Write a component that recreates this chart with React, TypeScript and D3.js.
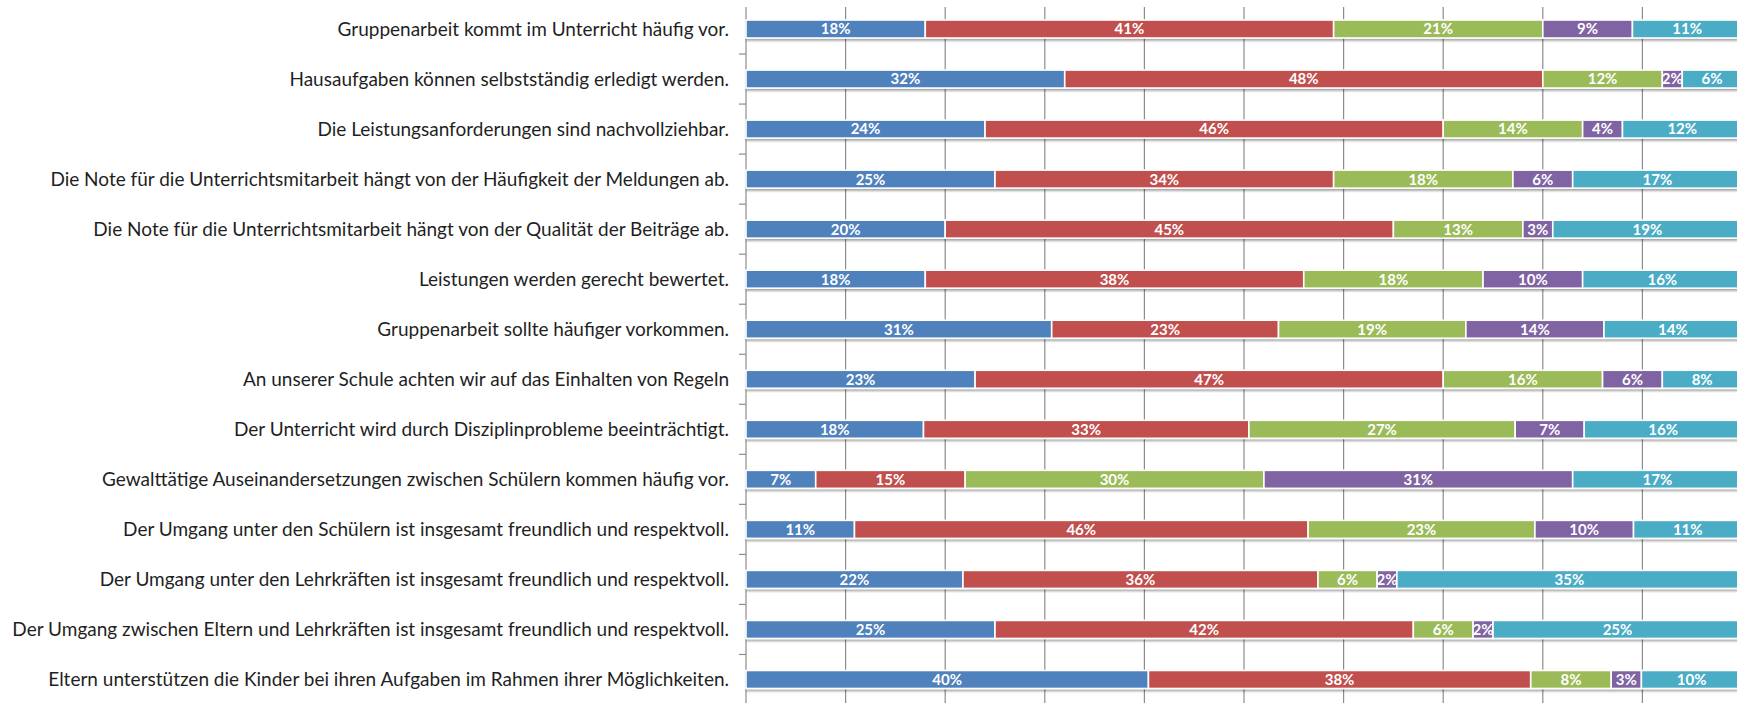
import React from "react";
import * as d3 from "d3";

const categories = [
  "Gruppenarbeit kommt im Unterricht häufig vor.",
  "Hausaufgaben können selbstständig erledigt werden.",
  "Die Leistungsanforderungen sind nachvollziehbar.",
  "Die Note für die Unterrichtsmitarbeit hängt von der Häufigkeit der Meldungen ab.",
  "Die Note für die Unterrichtsmitarbeit hängt von der Qualität der Beiträge ab.",
  "Leistungen werden gerecht bewertet.",
  "Gruppenarbeit sollte häufiger vorkommen.",
  "An unserer Schule achten wir auf das Einhalten von Regeln",
  "Der Unterricht wird durch Disziplinprobleme beeinträchtigt.",
  "Gewalttätige Auseinandersetzungen zwischen Schülern kommen häufig vor.",
  "Der Umgang unter den Schülern ist insgesamt freundlich und respektvoll.",
  "Der Umgang unter den Lehrkräften ist insgesamt freundlich und respektvoll.",
  "Der Umgang zwischen Eltern und Lehrkräften ist insgesamt freundlich und respektvoll.",
  "Eltern unterstützen die Kinder bei ihren Aufgaben im Rahmen ihrer Möglichkeiten.",
];

const seriesKeys = ["antwort1", "antwort2", "antwort3", "antwort4", "antwort5"];
const seriesColors = ["#4F81BD", "#C0504D", "#9BBB59", "#8064A2", "#4BACC6"];

const antwort1 = [18, 32, 24, 25, 20, 18, 31, 23, 18, 7, 11, 22, 25, 40];
const antwort2 = [41, 48, 46, 34, 45, 38, 23, 47, 33, 15, 46, 36, 42, 38];
const antwort3 = [21, 12, 14, 18, 13, 18, 19, 16, 27, 30, 23, 6, 6, 8];
const antwort4 = [9, 2, 4, 6, 3, 10, 14, 6, 7, 31, 10, 2, 2, 3];
const antwort5 = [11, 6, 12, 17, 19, 16, 14, 8, 16, 17, 11, 35, 25, 10];

const gridTicks = [0.1, 0.2, 0.3, 0.4, 0.5, 0.6, 0.7, 0.8, 0.9, 1.0];

const W = 1737;
const H = 703;
const plotLeft = 746;
const plotRight = 1742;
const plotTop = 4;
const plotBottom = 704.5;
const barH = 18;

export default function App() {
  const table = categories.map((c, i) => ({
    category: c,
    antwort1: antwort1[i],
    antwort2: antwort2[i],
    antwort3: antwort3[i],
    antwort4: antwort4[i],
    antwort5: antwort5[i],
  }));
  const stacked = d3.stack<any>().keys(seriesKeys).offset(d3.stackOffsetExpand)(table);

  const x = d3.scaleLinear().domain([0, 1]).range([plotLeft, plotRight]);
  const y = d3.scaleBand<string>().domain(categories).range([plotTop, plotBottom]).padding(0);
  const bw = y.bandwidth();
  const boundaries = d3.range(categories.length + 1).map((k) => plotTop + k * bw);

  return (
    <>
      <style>{`body{margin:0;}`}</style>
      <svg width={W} height={H} style={{ display: "block", overflow: "hidden" }}>
        <defs>
          <filter id="shadow" x="-5%" y="-60%" width="110%" height="220%">
            <feDropShadow dx="1" dy="2" stdDeviation="1.3" floodColor="#000" floodOpacity="0.35" />
          </filter>
        </defs>
        <rect x={0} y={0} width={W} height={H} fill="#ffffff" />
        {gridTicks.map((t) => (
          <line key={t} x1={x(t)} x2={x(t)} y1={plotTop + 3} y2={H} stroke="#8c8c8c" strokeWidth={1.2} />
        ))}
        <line x1={plotLeft} x2={plotLeft} y1={plotTop + 3} y2={H} stroke="#8c8c8c" strokeWidth={1.2} />
        {boundaries.slice(1).map((b, k) => (
          <line key={k} x1={plotLeft - 7} x2={plotLeft} y1={b} y2={b} stroke="#8c8c8c" strokeWidth={1.2} />
        ))}
        {categories.map((c, i) => {
          const cy = (y(c) as number) + bw / 2;
          return (
            <g key={c} filter="url(#shadow)">
              {stacked.map((s, si) => {
                const d = s[i];
                return (
                  <rect
                    key={si}
                    x={x(d[0])}
                    width={x(d[1]) - x(d[0])}
                    y={cy - barH / 2}
                    height={barH}
                    fill={seriesColors[si]}
                    stroke="#ffffff"
                    strokeWidth={1.6}
                  />
                );
              })}
            </g>
          );
        })}
        {categories.map((c, i) => {
          const cy = (y(c) as number) + bw / 2;
          return (
            <g key={"l" + c}>
              {stacked.map((s, si) => {
                const d = s[i];
                const v = (table[i] as any)[seriesKeys[si]];
                return (
                  <text
                    key={si}
                    x={(x(d[0]) + x(d[1])) / 2}
                    y={cy}
                    dy="0.36em"
                    textAnchor="middle"
                    fill="#ffffff"
                    fontFamily="Lato, 'Open Sans', sans-serif"
                    fontWeight="bold"
                    fontSize={15}
                  >
                    {v + "%"}
                  </text>
                );
              })}
              <text
                x={729}
                y={cy}
                dy="0.36em"
                textAnchor="end"
                fill="#1f1f1f"
                fontFamily="Lato, 'Open Sans', sans-serif"
                fontSize={19}
              >
                {c}
              </text>
            </g>
          );
        })}
      </svg>
    </>
  );
}
